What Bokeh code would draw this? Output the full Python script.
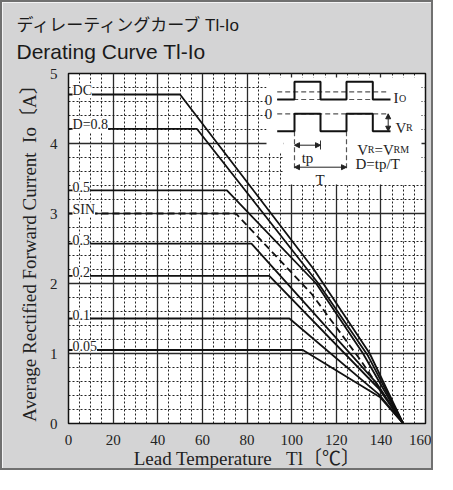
import math
from bokeh.plotting import figure
from bokeh.models import Label, SingleIntervalTicker, Arrow, NormalHead, Title
from bokeh.embed import file_html
from bokeh.resources import INLINE

# ---------------- data ----------------
series_names = ["DC", "D=0.8", "0.5", "SIN", "0.3", "0.2", "0.1", "0.05"]
temp_dc = [0, 50, 110, 135, 150]
io_dc = [4.70, 4.70, 2.20, 1.00, 0.0]
temp_d08 = [0, 57.5, 112, 134, 150]
io_d08 = [4.21, 4.21, 2.00, 0.98, 0.0]
temp_d05 = [0, 71, 111, 132, 150]
io_d05 = [3.33, 3.33, 2.00, 1.00, 0.0]
temp_sin = [0, 75, 109, 131, 150]
io_sin = [3.00, 3.00, 1.85, 0.90, 0.0]
temp_d03 = [0, 82, 138, 150]
io_d03 = [2.57, 2.57, 0.58, 0.0]
temp_d02 = [0, 90, 139, 150]
io_d02 = [2.11, 2.11, 0.50, 0.0]
temp_d01 = [0, 99, 139, 150]
io_d01 = [1.50, 1.50, 0.42, 0.0]
temp_d005 = [0, 105, 139.5, 150]
io_d005 = [1.05, 1.05, 0.38, 0.0]

x_ticks_interval = 20
y_ticks_interval = 1

title_line1 = "ディレーティングカーブ Tl-Io"
title_line2 = "Derating Curve Tl-Io"
y_label = "Average Rectified Forward Current\u00a0\u00a0Io〔A〕"
x_label = "Lead Temperature\u00a0\u00a0\u00a0Tl〔℃〕"

# ---------------- layout (picture pixels) ----------------
ORIGIN = 4.0          # canvas origin in the picture (page offset + border)
FL, FT = 70.0, 75.0   # frame left / top in the picture
FW, FH = 357.0, 350.0
W, H = 433, 470


def X(px):
    return (px - FL) * 160.0 / FW


def Y(py):
    return (FT + FH - py) * 5.0 / FH


SERIF = "'Liberation Serif', 'Noto Sans CJK JP', serif"
SANS = "'Liberation Sans', 'Noto Sans CJK JP', sans-serif"

p = figure(width=W, height=H, x_range=(0, 160), y_range=(0, 5),
           output_backend="svg", toolbar_location=None,
           min_border_left=int(FL - ORIGIN), min_border_right=int(W - (FL - ORIGIN) - FW),
           min_border_top=int(FT - ORIGIN), min_border_bottom=int(H - (FT - ORIGIN) - FH))
p.styles = {"border": "2px solid #707070"}
p.background_fill_color = "white"
p.border_fill_color = "#d4d4d5"
p.outline_line_color = "#111111"
p.outline_line_width = 1.5

# titles (added nearest-first)
p.add_layout(Title(text=title_line2, align="left", offset=-52, standoff=22,
                   text_font=SANS, text_font_size="21px",
                   text_font_style="normal", text_color="#1a1a1a"), "above")
p.add_layout(Title(text=title_line1, align="left", offset=-52, standoff=-17,
                   text_font=SANS, text_font_size="17px",
                   text_font_style="normal", text_color="#1a1a1a"), "above")

p.xaxis.ticker = SingleIntervalTicker(interval=x_ticks_interval, num_minor_ticks=4)
p.yaxis.ticker = SingleIntervalTicker(interval=y_ticks_interval, num_minor_ticks=5)
for ax in (p.xaxis, p.yaxis):
    ax.axis_line_color = None
    ax.major_tick_line_color = None
    ax.minor_tick_line_color = None
    ax.major_label_text_font = SERIF
    ax.major_label_text_font_size = "15px"
    ax.major_label_text_color = "#222222"
    ax.major_label_standoff = 5
    ax.axis_label_text_font = SERIF
    ax.axis_label_text_font_size = "19px"
    ax.axis_label_text_font_style = "normal"
    ax.axis_label_text_color = "#222222"
p.xaxis.axis_label = x_label
p.yaxis.axis_label = y_label
p.xaxis.axis_label_standoff = 0
p.yaxis.axis_label_standoff = 7

for g in (p.xgrid, p.ygrid):
    g.grid_line_color = "#2a2a2a"
    g.grid_line_width = 1.3
    g.minor_grid_line_color = "#222222"
    g.minor_grid_line_width = 1
    g.minor_grid_line_dash = "2 2"

# white inset box that hides the grid behind the waveform sketch
p.quad(left=[X(285), X(268)], right=[X(423), X(285)],
       bottom=[Y(186), Y(154)], top=[Y(79), Y(79)],
       fill_color="white", line_color=None)

# ---------------- curves ----------------
curves = [
    (temp_dc, io_dc, "solid"),
    (temp_d08, io_d08, "solid"),
    (temp_d05, io_d05, "solid"),
    (temp_sin, io_sin, "7 4"),
    (temp_d03, io_d03, "solid"),
    (temp_d02, io_d02, "solid"),
    (temp_d01, io_d01, "solid"),
    (temp_d005, io_d005, "solid"),
]
for name, (tx, iy, dash) in zip(series_names, curves):
    p.line(tx, iy, line_color="#111111", line_width=1.8, line_dash=dash)
    p.add_layout(Label(x=1.8, y=iy[0] + 0.055, text=name, text_font=SERIF,
                       text_font_size="14px", text_color="#222222",
                       text_baseline="alphabetic",
                       background_fill_color="white"))

# ---------------- waveform sketch (picture pixels, reference frame top 79) ----------------
DY = FT - 79.0
wave_x = [278.7, 296, 296, 322, 322, 348, 348, 374.3, 374.3, 392]
io_wave_y = [105, 105, 87.3, 87.3, 105, 105, 87.3, 87.3, 105, 105]
vr_wave_y = [136.7, 136.7, 119.3, 119.3, 136.7, 136.7, 119.3, 119.3, 136.7, 136.7]


def WY(py):
    return Y(py + DY)


for yy in (97.3, 105, 119.3):
    p.line([X(278.7), X(390)], [WY(yy), WY(yy)], line_color="#555555",
           line_width=1.2, line_dash="5 3")
for xx in (296, 348):
    p.line([X(xx), X(xx)], [WY(136.7), WY(176)], line_color="#555555",
           line_width=1.2, line_dash="5 3")
p.line([X(322), X(322)], [WY(146), WY(155)], line_color="#333333", line_width=1)
p.line([X(v) for v in wave_x], [WY(v) for v in io_wave_y], line_color="#111111", line_width=2)
p.line([X(v) for v in wave_x], [WY(v) for v in vr_wave_y], line_color="#111111", line_width=2)


def arrow(x0, y0, x1, y1):
    p.add_layout(Arrow(x_start=X(x0), y_start=WY(y0), x_end=X(x1), y_end=WY(y1),
                       line_color="#222222", line_width=1,
                       start=NormalHead(size=5, fill_color="#222222", line_color="#222222"),
                       end=NormalHead(size=5, fill_color="#222222", line_color="#222222")))


arrow(296, 150.7, 322, 150.7)
arrow(296, 172.7, 348, 172.7)
arrow(389.7, 119.3, 389.7, 136.7)


def txt(s, px, py, size="15px", font=SERIF, style="normal", align="left",
        baseline="alphabetic", color="#222222"):
    p.add_layout(Label(x=X(px), y=WY(py), text=s, text_font=font,
                       text_font_size=size, text_font_style=style,
                       text_align=align, text_baseline=baseline,
                       text_color=color))


txt("0", 270, 105, align="center", baseline="middle")
txt("0", 270, 119.3, align="center", baseline="middle")
txt("I", 395, 103.5)
txt("O", 400.5, 103.5, size="10px")
txt("V", 397, 133)
txt("R", 407.5, 133, size="10px")
txt("V", 358.7, 155)
txt("R", 369.3, 155, size="10px")
txt("=V", 376, 155)
txt("RM", 395, 155, size="10px")
txt("D=tp/T", 357, 169.5)
txt("tp", 309, 163, align="center")
txt("T", 321.5, 185.5, align="center")

open("out.html", "w").write(file_html(p, INLINE))
